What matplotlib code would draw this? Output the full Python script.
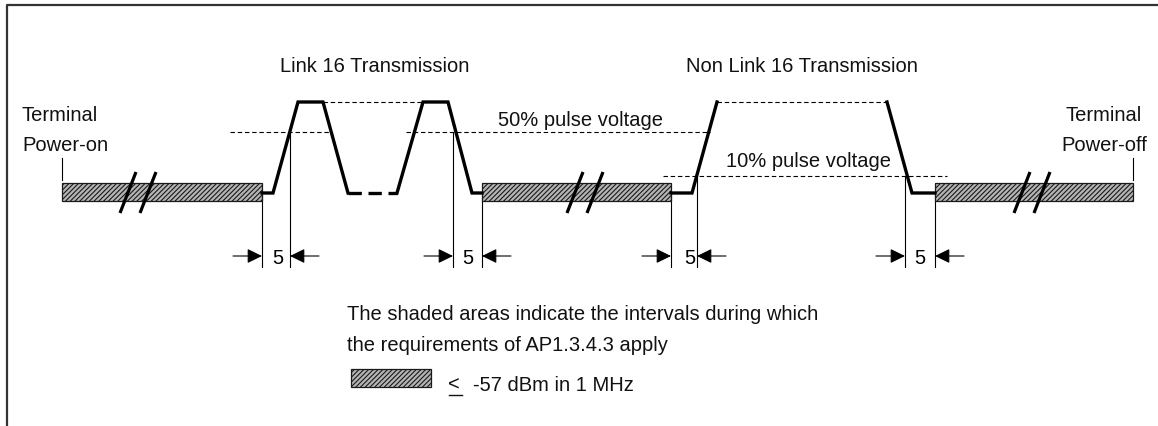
import matplotlib
matplotlib.use("Agg")
import matplotlib.pyplot as plt
from matplotlib import font_manager
from matplotlib.patches import Rectangle

# canvas is laid out in pixel units (1158 x 426), y grows downwards
W, H = 1158, 426

# signal levels
LOW = 193      # idle level of the trace
TOP = 102      # full pulse voltage
HALF = 132     # 50% pulse voltage
TENTH = 176    # 10% pulse voltage

# shaded intervals (x start, x end) and their vertical extent
bar_spans = [(62, 262), (482, 671), (935, 1133)]
bar_y = (183, 201)
# time-axis break marks, x of the lower end of each slash
break_x = [120, 140, 567, 587, 1014, 1034]

# pulse traces
link16_x = [[262, 273, 298, 323, 348], [397, 423, 448, 472, 482]]
link16_y = [[LOW, LOW, TOP, TOP, LOW], [LOW, TOP, TOP, LOW, LOW]]
nonlink_x = [[671, 692, 717], [887, 912, 935]]
nonlink_y = [[LOW, LOW, TOP], [TOP, LOW, LOW]]
gap_x = [348, 397]   # bold dashed idle segment between Link 16 pulses

# thin dashed reference levels (x0, x1, y)
ref_lines = [(230, 330, HALF), (406, 710, HALF), (323, 423, TOP),
             (717, 887, TOP), (663, 947, TENTH)]

# "5" dimension markers: (left x, top of left line, right x, top of right line, label x)
dims = [(262, LOW, 290, HALF, 278),
        (453, HALF, 482, LOW, 468),
        (671, LOW, 697, TENTH, 690),
        (905, TENTH, 935, LOW, 920)]
dim_y, dim_bottom = 256, 267


def pick_font():
    for name in ["Liberation Sans Narrow", "Arial Narrow"]:
        try:
            font_manager.findfont(font_manager.FontProperties(family=name),
                                  fallback_to_default=False)
            return name, 1.0
        except ValueError:
            pass
    return "Liberation Sans", 0.88


font, scale = pick_font()
fam = [font, "Liberation Sans", "DejaVu Sans"]
FS = 16.5 * scale
plt.rcParams["hatch.linewidth"] = 0.8

fig = plt.figure(figsize=(W / 100, H / 100), dpi=100)
ax = fig.add_axes([0, 0, 1, 1])
ax.set_xlim(0, W)
ax.set_ylim(H, 0)
ax.axis("off")

# frame
ax.plot([7, 7, W], [H, 5, 5], color="#333333", lw=1.6, solid_capstyle="butt")

shade = dict(facecolor="#b4b4b4", edgecolor="#1a1a1a", hatch="///////", lw=0.9)

# shaded bars
for x0, x1 in bar_spans:
    ax.add_patch(Rectangle((x0, bar_y[0]), x1 - x0, bar_y[1] - bar_y[0],
                           zorder=2, **shade))

# break marks
for bx in break_x:
    ax.plot([bx, bx + 16], [213, 172], color="black", lw=2.3, zorder=4,
            solid_capstyle="butt")

# reference levels
for x0, x1, y in ref_lines:
    ax.plot([x0, x1], [y, y], color="black", lw=0.8, ls=(0, (4, 2.5)), zorder=1)

# pulse traces
for xs, ys in zip(link16_x + nonlink_x, link16_y + nonlink_y):
    ax.plot(xs, ys, color="black", lw=2.4, solid_joinstyle="miter", zorder=3)
ax.plot(gap_x, [LOW, LOW], color="black", lw=2.4, ls=(0, (4, 2)), zorder=3)

# power-on / power-off ticks
for tx in (bar_spans[0][0], bar_spans[-1][1]):
    ax.plot([tx, tx], [158, 180], color="black", lw=0.8)

# dimension lines and arrows
arrow = dict(arrowstyle="-|>,head_length=0.45,head_width=0.22", color="black",
             lw=0.8, shrinkA=0, shrinkB=0, mutation_scale=20)
for xl, yl, xr, yr, lx in dims:
    ax.plot([xl, xl], [yl, dim_bottom], color="black", lw=0.8, zorder=1)
    ax.plot([xr, xr], [yr, dim_bottom], color="black", lw=0.8, zorder=1)
    ax.annotate("", xy=(xl, dim_y), xytext=(xl - 29, dim_y), arrowprops=arrow)
    ax.annotate("", xy=(xr, dim_y), xytext=(xr + 29, dim_y), arrowprops=arrow)
    ax.text(lx, 264, "5", family=fam, fontsize=FS, ha="center", va="baseline")

# labels
txt = dict(family=fam, fontsize=FS, va="baseline", color="#111111")
ax.text(22, 121, "Terminal", ha="left", **txt)
ax.text(22, 151, "Power-on", ha="left", **txt)
ax.text(1104, 121, "Terminal", ha="center", **txt)
ax.text(1104, 151, "Power-off", ha="center", **txt)
ax.text(375, 72, "Link 16 Transmission", ha="center", **txt)
ax.text(802, 72, "Non Link 16 Transmission", ha="center", **txt)
ax.text(498, 126, "50% pulse voltage", ha="left", **txt)
ax.text(726, 167, "10% pulse voltage", ha="left", **txt)
ax.text(347, 320, "The shaded areas indicate the intervals during which", ha="left", **txt)
ax.text(347, 351, "the requirements of AP1.3.4.3 apply", ha="left", **txt)

# legend swatch
ax.add_patch(Rectangle((351, 369), 80, 18, **shade))
ax.text(448, 391, "<", ha="left", **txt)
ax.plot([449, 462], [395, 395], color="#111111", lw=1.0)
ax.text(473, 391, "-57 dBm in 1 MHz", ha="left", **txt)

fig.savefig("out.png", dpi=100)
